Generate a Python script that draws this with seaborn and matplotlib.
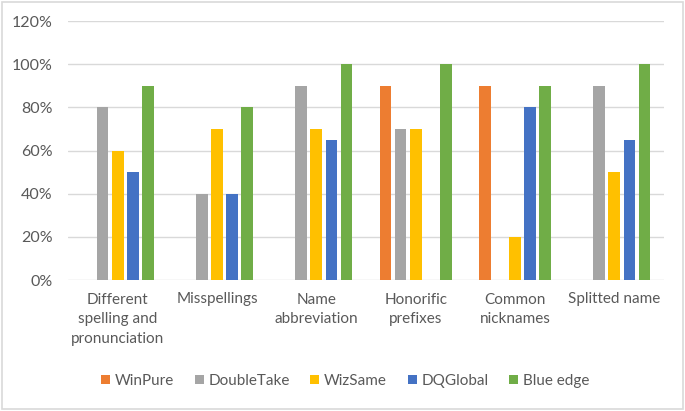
import matplotlib
matplotlib.use("Agg")
import matplotlib.pyplot as plt
import seaborn as sns
import pandas as pd
from matplotlib.ticker import FuncFormatter, MultipleLocator
from matplotlib.patches import Rectangle

categories = ["Different\nspelling and\npronunciation", "Misspellings", "Name\nabbreviation",
              "Honorific\nprefixes", "Common\nnicknames", "Splitted name"]
series = ["WinPure", "DoubleTake", "WizSame", "DQGlobal", "Blue edge"]
winpure = [0, 0, 0, 90, 90, 0]
doubletake = [80, 40, 90, 70, 0, 90]
wizsame = [60, 70, 70, 70, 20, 50]
dqglobal = [50, 40, 65, 0, 80, 65]
blueedge = [90, 80, 100, 100, 90, 100]
colors = ["#ED7D31", "#A5A5A5", "#FFC000", "#4472C4", "#70AD47"]

values = [winpure, doubletake, wizsame, dqglobal, blueedge]
rows = []
for s, vals in zip(series, values):
    for c, v in zip(categories, vals):
        rows.append({"category": c, "series": s, "value": v})
df = pd.DataFrame(rows)

sns.set_theme(style="white")
plt.rcParams["font.family"] = ["Lato", "DejaVu Sans"]

fig = plt.figure(figsize=(6.85, 4.11), dpi=100)
ax = fig.add_axes([68/685, 1-280/411, (664-68)/685, (280-21)/411])

sns.barplot(data=df, x="category", y="value", hue="series", order=categories,
            hue_order=series, palette=colors, width=0.76, gap=0.22,
            linewidth=0, saturation=1, ax=ax, errorbar=None)

ax.set_ylim(0, 120)
ax.yaxis.set_major_locator(MultipleLocator(20))
ax.yaxis.set_major_formatter(FuncFormatter(lambda v, p: f"{int(v)}%"))
ax.grid(axis="y", color="#D9D9D9", linewidth=1)
ax.set_axisbelow(True)
for sp in ax.spines.values():
    sp.set_visible(False)
ax.set_xticks(range(len(categories)), labels=categories, linespacing=1.52)
ax.tick_params(axis="both", length=0, labelcolor="#595959")
ax.tick_params(axis="x", pad=9, labelsize=11)
ax.tick_params(axis="y", pad=11, labelsize=11.5)
ax.set_xlabel("")
ax.set_ylabel("")
ax.set_xlim(-0.5, 5.5)

leg = ax.legend(loc="center", bbox_to_anchor=(345/685, 1-381/411),
                bbox_transform=fig.transFigure, ncol=5, frameon=False,
                fontsize=11, handlelength=0.6, handleheight=0.6,
                handletextpad=0.3, columnspacing=1.35, labelcolor="#595959")

fig.patches.append(Rectangle((0.003, 0.005), 0.994, 0.99, transform=fig.transFigure,
                             fill=False, edgecolor="#D9D9D9", linewidth=1.2))

fig.savefig("out.png", dpi=100, facecolor="white")
